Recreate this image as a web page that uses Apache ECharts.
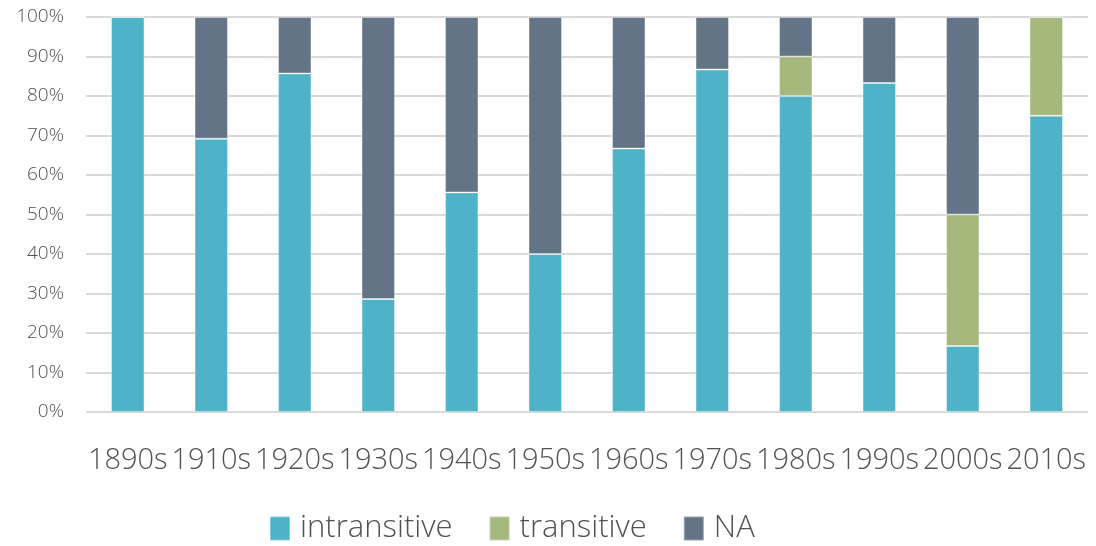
<!DOCTYPE html>
<html>
<head>
<meta charset="utf-8">
<script src="https://cdn.jsdelivr.net/npm/echarts@6/dist/echarts.min.js"></script>
<style>
  html, body { margin: 0; padding: 0; background: #fff; }
  #chart { width: 1096px; height: 546px; }
</style>
</head>
<body>
<div id="chart"></div>
<script>
// decades on the x axis
const decades = ["1890s", "1910s", "1920s", "1930s", "1940s", "1950s", "1960s", "1970s", "1980s", "1990s", "2000s", "2010s"];
// share per decade, in percent
const intransitive = [100, 69.2, 85.7, 28.6, 55.6, 40, 66.7, 86.7, 80, 83.3, 16.7, 75];
const transitive = [0, 0, 0, 0, 0, 0, 0, 0, 10, 0, 33.3, 25];
const na = [0, 30.8, 14.3, 71.4, 44.4, 60, 33.3, 13.3, 10, 16.7, 50, 0];

const FONT = "Open Sans";
const TEXT = "#525252";

const chart = echarts.init(document.getElementById("chart"));

function barSeries(name, values, color) {
    return {
        name: name,
        type: "bar",
        stack: "total",
        barWidth: "40%",
        data: values,
        itemStyle: { color: color, borderColor: "rgba(255,255,255,0.35)", borderWidth: 1 },
    };
}

chart.setOption({
    animation: false,
    textStyle: { fontFamily: FONT, color: TEXT, fontWeight: 300 },
    grid: { left: 86, right: 8, top: 17, bottom: 134 },
    legend: {
        bottom: -3,
        left: 264,
        itemWidth: 20,
        itemHeight: 24,
        itemGap: 36,
        icon: "rect",
        textStyle: { fontSize: 31, color: TEXT, fontFamily: FONT, fontWeight: 300, padding: [0, 0, 0, 5] },
        data: ["intransitive", "transitive", "NA"],
    },
    xAxis: {
        type: "category",
        data: decades,
        axisLine: { show: false },
        axisTick: { show: false },
        axisLabel: { interval: 0, fontSize: 29, color: TEXT, fontWeight: 300, margin: 34 },
    },
    yAxis: {
        type: "value",
        min: 0,
        max: 100,
        interval: 10,
        axisLabel: { formatter: "{value}%", fontSize: 19, color: TEXT, fontWeight: 300, margin: 22 },
        splitLine: { lineStyle: { color: "#d9d9d9", width: 2 } },
    },
    series: [
        barSeries("intransitive", intransitive, "#4fb3c8"),
        barSeries("transitive", transitive, "#a6b97c"),
        barSeries("NA", na, "#637486"),
    ],
});
</script>
</body>
</html>
